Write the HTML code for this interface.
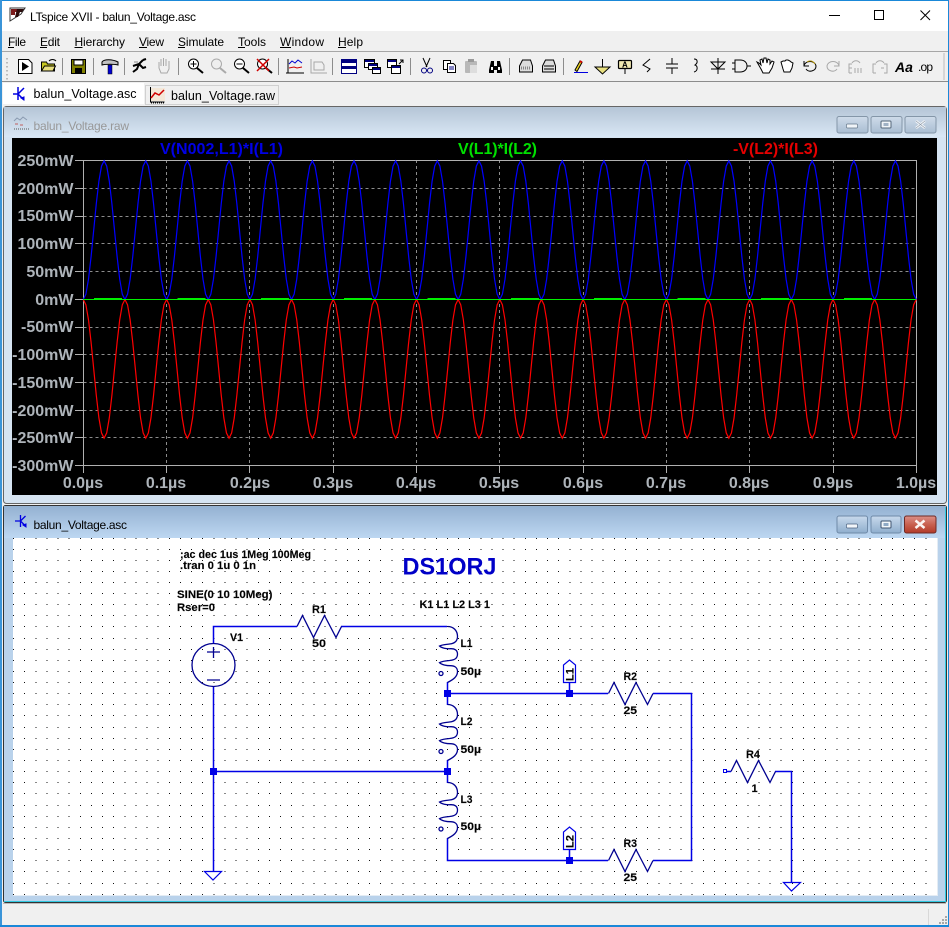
<!DOCTYPE html>
<html><head><meta charset="utf-8"><title>LTspice XVII - balun_Voltage.asc</title>
<style>
html,body{margin:0;padding:0;background:#f0f0f0;width:949px;height:927px;overflow:hidden}
svg{display:block;position:absolute;left:0;top:0}
text{font-family:"Liberation Sans",sans-serif}
.m{font-size:12px;fill:#000}
.ax{font-size:16px;font-weight:bold;fill:#aeb4ba}
.axm{font-size:16px;font-weight:bold;fill:#aeb4ba;text-anchor:middle}
.tr{font-size:16px;font-weight:bold}
.s{font-size:11px;font-weight:bold;fill:#000;stroke:#222;stroke-width:.15}
.sym{fill:none;stroke:#000090;stroke-width:1.3}
.w{fill:#0000e6}
.ic{fill:none;stroke:#000;stroke-width:1}
.g{fill:none;stroke:#a8a8a8;stroke-width:1}
</style></head><body>
<svg width="949" height="927" viewBox="0 0 949 927" xmlns="http://www.w3.org/2000/svg">
<defs>
<linearGradient id="t1" x1="0" y1="0" x2="0" y2="1"><stop offset="0" stop-color="#b5c5d6"/><stop offset="1" stop-color="#d9e7f5"/></linearGradient>
<linearGradient id="t2" x1="0" y1="0" x2="0" y2="1"><stop offset="0" stop-color="#94b1d1"/><stop offset="1" stop-color="#bdd7f1"/></linearGradient>
<linearGradient id="b1" x1="0" y1="0" x2="0" y2="1"><stop offset="0" stop-color="#cfdcea"/><stop offset="1" stop-color="#a9bdd2"/></linearGradient>
<linearGradient id="b2" x1="0" y1="0" x2="0" y2="1"><stop offset="0" stop-color="#c8d9ec"/><stop offset="1" stop-color="#8faecd"/></linearGradient>
<linearGradient id="rd" x1="0" y1="0" x2="0" y2="1"><stop offset="0" stop-color="#dc9088"/><stop offset=".5" stop-color="#c8604f"/><stop offset="1" stop-color="#b23a28"/></linearGradient>
<polyline id="wave" fill="none" points="0,0 2.6,-5.3 5.2,-20.3 7.8,-42.9 10.4,-69.35 13,-95.8 15.6,-118.4 18.2,-133.4 20.8,-138.7 23.4,-133.4 26,-118.4 28.6,-95.8 31.2,-69.35 33.8,-42.9 36.4,-20.3 39,-5.3 41.65,0"/>
<path id="coil" class="sym" d="M0 0C6 0 10 4 10 10C10 15 7 17 2 17.5C-2 18-6 18.3-8 19.500C-6 21.500-1 22.500 3 22.200C7 22 10 23.500 10 27.500C10 32 7 33.500 2 34C-2 34.300-6 35-8 36.200C-6 38.200-1 39.200 3 39.200C7 39.200 10 41 10 45C10 50 6 53 0 56"/>
<path id="res" class="sym" d="M0 0L5.5-11L16.5 11L27.5-11L39 11L44.5 0"/>
<g id="waves">
<use href="#wave" x="83.3"/><use href="#wave" x="124.95"/><use href="#wave" x="166.6"/><use href="#wave" x="208.25"/><use href="#wave" x="249.9"/><use href="#wave" x="291.55"/><use href="#wave" x="333.2"/><use href="#wave" x="374.85"/><use href="#wave" x="416.5"/><use href="#wave" x="458.15"/><use href="#wave" x="499.8"/><use href="#wave" x="541.45"/><use href="#wave" x="583.1"/><use href="#wave" x="624.75"/><use href="#wave" x="666.4"/><use href="#wave" x="708.05"/><use href="#wave" x="749.7"/><use href="#wave" x="791.35"/><use href="#wave" x="833"/><use href="#wave" x="874.65"/>
</g>
</defs>

<!-- outer chrome -->
<rect width="949" height="927" fill="#f0f0f0"/>
<rect width="949" height="31" fill="#fff"/>
<rect x="0" y="51" width="949" height="1" fill="#a6a6a6"/>
<rect x="0" y="81" width="949" height="1" fill="#8c8c8c"/>
<rect x="0" y="0" width="949" height="1" fill="#1a88d8"/>
<rect x="0" y="0" width="2" height="927" fill="#3a94d8"/>
<rect x="948" y="0" width="1" height="927" fill="#1a88d8"/>
<rect x="0" y="925" width="949" height="2" fill="#1a88d8"/>

<!-- app icon + title -->
<path d="M10 8L25 8L21 14L10 21Z" fill="#fff" stroke="#333"/><path d="M11 9h7v3h-3v3h-4z" fill="#7a1a1a"/><path d="M17 9h7l-2 3h-2l-2 5h-3z" fill="#2a0a0a"/>
<text x="30" y="21" class="m" textLength="166" fill="#000">LTspice XVII - balun_Voltage.asc</text>
<rect x="829" y="15" width="11" height="1" fill="#000"/>
<rect x="874.5" y="10.5" width="9" height="9" fill="none" stroke="#000"/>
<path d="M920.5 10.5L930 20M930 10.5L920.5 20" stroke="#000" fill="none"/>

<!-- menu -->
<g class="m">
<text x="8" y="46" class="m" textLength="18">File</text><rect x="8" y="47" width="6" height="1"/>
<text x="40" y="46" class="m" textLength="20">Edit</text><rect x="40" y="47" width="7" height="1"/>
<text x="74.5" y="46" class="m" textLength="50.5">Hierarchy</text><rect x="74.5" y="47" width="8" height="1"/>
<text x="139" y="46" class="m" textLength="25">View</text><rect x="139" y="47" width="8" height="1"/>
<text x="178" y="46" class="m" textLength="46">Simulate</text><rect x="178" y="47" width="7" height="1"/>
<text x="238" y="46" class="m" textLength="28">Tools</text><rect x="238" y="47" width="7" height="1"/>
<text x="280" y="46" class="m" textLength="44">Window</text><rect x="280" y="47" width="11" height="1"/>
<text x="338" y="46" class="m" textLength="25">Help</text><rect x="338" y="47" width="8" height="1"/>
</g>

<!-- toolbar gripper & separators -->
<path d="M7 58v22" stroke="#a8a8a8" stroke-dasharray="1.5 2.5" stroke-width="1.5" fill="none"/>
<path d="M62.5 58v17M93.5 58v17M124.5 58v17M178.5 58v17M278.5 58v17M332.5 58v17M410.5 58v17M509.5 58v17M563.5 58v17" stroke="#8c8c8c" fill="none"/>
<rect x="943.5" y="53" width="1" height="27" fill="#bbb"/>

<!-- toolbar icons -->
<path d="M18.5 59.5h10l3.5 3.5v10.500h-13.500z" fill="#fff" stroke="#000"/><path d="M22 62l7 4.500-7 4.500z" fill="#000"/>
<path d="M41.500 71V62h5l1 2h7v7z" fill="#c8c820" stroke="#000"/><path d="M41.500 71l3-5h11l-2.500 5z" fill="#e8e080" stroke="#000"/><path d="M49 61c2-2 5-2 7 0" class="ic"/>
<rect x="71.500" y="59.500" width="14" height="14" fill="#808000" stroke="#000"/><rect x="74" y="60" width="9" height="5" fill="#fff" stroke="#000"/><rect x="75" y="68" width="7" height="5" fill="#000"/>
<path d="M102 62c2-3 10-3 16 0v3c-4-1-12-1-16 0z" fill="#c0c0c0" stroke="#000"/><rect x="108" y="65" width="4" height="9" fill="#0000d0" stroke="#000" stroke-width=".5"/>
<path d="M133 66l6-2 4-4M139 64l-2 5-4 3M139 64l4 4 3-1M143 60l3-1" stroke="#000" stroke-width="2" fill="none"/><path d="M134 62h4" stroke="#888"/>
<path d="M159 62v6l2 5h6l2-4v-8M161 66v-7M163.500 66v-8M166 66v-7" class="g"/>
<circle cx="193.500" cy="64" r="5" fill="#fff" stroke="#000"/><path d="M197 68l6 5" stroke="#000" stroke-width="2"/><path d="M190.500 64h6M193.500 61v6" stroke="#000"/>
<circle cx="216.500" cy="64" r="5" fill="#eee" stroke="#aaa"/><path d="M220 68l6 5" stroke="#aaa" stroke-width="2"/>
<circle cx="239.500" cy="64" r="5" fill="#fff" stroke="#000"/><path d="M243 68l6 5" stroke="#000" stroke-width="2"/><path d="M236.500 64h6" stroke="#000"/>
<circle cx="262.500" cy="64" r="5" fill="#fff" stroke="#000"/><path d="M266 68l6 5" stroke="#000" stroke-width="2"/><path d="M257 59l12 12M269 59l-12 12" stroke="#d00000" stroke-width="1.500"/>
<path d="M288 59v14h16M286 73h18" stroke="#000" fill="none"/><path d="M289 64l3-3 3 2 3-3 4 3" stroke="#0000d0" fill="none"/><path d="M289 68l5-1 3 1 5-1" stroke="#d00000" fill="none"/>
<path d="M311 59v14h16M314 62h8l2 3v5h-10z" class="g"/>
<rect x="341.500" y="59.500" width="15" height="14" fill="#fff" stroke="#000080" stroke-width="1"/><rect x="342" y="60" width="14" height="3" fill="#000080"/><rect x="342" y="66" width="14" height="3" fill="#000080"/>
<rect x="364.500" y="59.500" width="10" height="8" fill="#fff" stroke="#000"/><rect x="365" y="60" width="9" height="2" fill="#000080"/><rect x="368.500" y="63.500" width="9" height="6" fill="#fff" stroke="#000"/><rect x="369" y="64" width="8" height="2" fill="#000080"/><rect x="372.500" y="67.500" width="8" height="6" fill="#fff" stroke="#000"/><rect x="373" y="68" width="7" height="2" fill="#000080"/>
<rect x="387.500" y="59.500" width="9" height="8" fill="#fff" stroke="#000"/><rect x="388" y="60" width="8" height="2" fill="#000080"/><rect x="391.500" y="65.500" width="9" height="8" fill="#fff" stroke="#000"/><rect x="392" y="66" width="8" height="2" fill="#000080"/><path d="M399 64l4-4M400 60h3v3" class="ic"/>
<path d="M423 58l4 9M430 58l-4 9" class="ic"/><circle cx="424" cy="70.500" r="2.500" fill="none" stroke="#000080"/><circle cx="430" cy="70.500" r="2.500" fill="none" stroke="#000080"/>
<path d="M443.500 60.500h7v9h-7z" fill="#fff" stroke="#000"/><path d="M447.500 63.500h6l2 2v7h-8z" fill="#fff" stroke="#000"/><path d="M449 67h5M449 69h5" stroke="#000080"/>
<rect x="465" y="61" width="12" height="12" rx="1" fill="#b8b8b8"/><rect x="468" y="59" width="6" height="3" fill="#999"/><rect x="470" y="65" width="7" height="8" fill="#ddd"/>
<path d="M489 70l2-9h3v5h3v-5h3l2 9v3h-5v-3h-3v3h-5z" fill="#000"/><rect x="491" y="67" width="2" height="3" fill="#fff"/><rect x="498" y="67" width="2" height="3" fill="#fff"/>
<path d="M519.500 66l3-6h8l2 6v6h-13z" fill="#ddd" stroke="#000"/><path d="M521 68h10" stroke="#888" stroke-width="3" stroke-dasharray="1 1"/>
<path d="M542.500 66l3-6h8l2 6v6h-13z" fill="#ddd" stroke="#000"/><path d="M544 66h10M544 69h10" stroke="#000"/>
<path d="M575 70l5-9 2 1.500-5 9z" fill="#e8d020" stroke="#000"/><path d="M580 61l2 1.500" stroke="#d00000" stroke-width="2"/><rect x="574" y="72" width="14" height="1" fill="#0000e0"/>
<path d="M602.500 59v8M595 67h15l-7.500 7z" fill="#e8e080" stroke="#000"/>
<rect x="618.500" y="60.500" width="13" height="8" rx="1" fill="#f0e8b0" stroke="#000" stroke-width="1.200"/><text x="622" y="67.500" font-size="8" font-weight="bold" font-family="Liberation Mono, monospace" fill="#000">A</text><path d="M625 69v5" class="ic"/>
<path d="M650 59l-7 6 7 4-3 3" class="ic" stroke-width="1.200"/><path d="M672 58v6M666 64h12M666 68h12M672 68v6" class="ic"/>
<path d="M694 59c4 0 4 4 1 6c3 1 3 6-1 7" class="ic" stroke-width="1.200"/>
<path d="M718 58v16M711 62h14l-7 7zM711 69h14" class="ic"/>
<path d="M735 60h5c5 0 7 3 7 6s-2 6-7 6h-5zM732 63h3M732 69h3M747 66h4" class="ic" stroke-width="1.200"/>
<path d="M757 62l4 7 2 4h6l3-5 2-6-2-1-2 3v-4l-2-1-1 4-1-5h-2l-1 5-1-4-2 1 1 5-2-2z" fill="#fff" stroke="#000"/>
<path d="M781 62l2 7 1 3h6l2-4 1-5-2-1-1-1-2-1h-2l-1 1h-2z" fill="#fff" stroke="#000"/>
<path d="M804 66c1-6 11-6 12 0c0 5-7 7-10 3" class="ic"/><path d="M804 61v5h5" fill="none" stroke="#000"/><path d="M807 62c3-2 6-1 8 2" fill="none" stroke="#b09000"/>
<path d="M839 66c-1-6-11-6-12 0c0 5 7 7 10 3M839 61v5h-5" class="g"/>
<path d="M849 73v-9h3M849 68h3M849 73h3M855 73v-5M858 73v-5M861 73v-5M852 63c2-3 6-3 8 0" class="g"/>
<path d="M873 73v-9h3M873 73h3M884 64h3v9h-3M881 68h3M876 63c2-3 6-3 8 0" class="g"/>
<text x="895" y="72" font-size="14" font-weight="bold" font-style="italic" font-family="Liberation Serif, serif" fill="#000">Aa</text>
<text x="918" y="71" font-size="12" font-family="Liberation Mono, monospace" fill="#000" textLength="15">.op</text>

<!-- tabs -->
<rect x="3" y="83" width="141" height="21" fill="#fff"/>
<rect x="145.500" y="85.500" width="133" height="19" fill="#f0f0f0" stroke="#d0d0d0"/>
<path d="M18 87v13M18 94l6-6M18 94l6 6" stroke="#0000e0" stroke-width="1.500" fill="none"/><path d="M13 94h5" stroke="#0000e0" stroke-width="1.500"/><path d="M21 98l3 2 0-3z" fill="#0000e0" stroke="#0000e0"/>
<path d="M150.500 87v15h14" stroke="#000" fill="none"/><rect x="151" y="88" width="14" height="13" fill="#f4e8d8"/><path d="M151 98l4-5 4 2 5-5" stroke="#d00000" stroke-width="1.500" fill="none"/><path d="M151 103h14" stroke="#000" stroke-dasharray="1 1"/>
<text x="33.500" y="98" font-size="12.500" fill="#000" textLength="103">balun_Voltage.asc</text>
<text x="171" y="100" font-size="12.500" fill="#000" textLength="104">balun_Voltage.raw</text>

<!-- plot window -->
<rect x="3.500" y="106.500" width="943" height="397" rx="3" fill="#d6e4f2" stroke="#666"/>
<rect x="4" y="107" width="942" height="30" fill="url(#t1)"/>
<path d="M14 121l3-3 3 2 3-3 4 3" stroke="#8a9ab0" fill="none"/><path d="M15 124h3M20 125h3" stroke="#c06060"/><path d="M14 129h15" stroke="#555" stroke-dasharray="1 1"/>
<text x="33.500" y="130" font-size="12" fill="#989898" textLength="95.500">balun_Voltage.raw</text>
<g>
<rect x="837" y="116.500" width="31" height="16.500" rx="2" fill="url(#b1)" stroke="#8496a8"/><rect x="846.500" y="124" width="11" height="4" rx="1" fill="#f0f4f8" stroke="#66788a" stroke-width=".7"/>
<rect x="871" y="116.500" width="31" height="16.500" rx="2" fill="url(#b1)" stroke="#8496a8"/><rect x="881" y="121" width="10" height="7" rx="1" fill="#f0f4f8" stroke="#55677a"/><rect x="883.500" y="123" width="5" height="3" fill="#9fb1c4"/>
<rect x="905" y="116.500" width="31" height="16.500" rx="2" fill="url(#b1)" stroke="#8496a8"/><path d="M916 121l9 7M925 121l-9 7" stroke="#f4f6f8" stroke-width="2.500"/><path d="M916 121l9 7M925 121l-9 7" stroke="#8a98a8" stroke-width=".6"/>
</g>

<!-- plot -->
<rect x="12" y="138" width="925" height="357" fill="#000"/>
<path d="M83.500 188.500H916M83.500 216.500H916M83.500 243.500H916M83.500 271.500H916M83.500 327.500H916M83.500 354.500H916M83.500 382.500H916M83.500 410.500H916M83.500 437.500H916M83.500 299.500H916" stroke="#8c8c8c" stroke-dasharray="3 3" fill="none"/>
<path d="M166.500 160V465M249.500 160V465M333.500 160V465M416.500 160V465M499.500 160V465M583.500 160V465M666.500 160V465M749.500 160V465M833.500 160V465" stroke="#8c8c8c" stroke-dasharray="3 3" fill="none"/>
<path d="M83.500 160.500H916.500V465.500H83.500Z" stroke="#b0b0b0" fill="none"/>
<path d="M75 160.500h8M75 188.500h8M75 216.500h8M75 243.500h8M75 271.500h8M75 299.500h8M75 327.500h8M75 354.500h8M75 382.500h8M75 410.500h8M75 437.500h8M75 465.500h8M83.500 465v8M166.500 465v8M249.500 465v8M333.500 465v8M416.500 465v8M499.500 465v8M583.500 465v8M666.500 465v8M749.500 465v8M833.500 465v8M916.500 465v8" stroke="#b0b0b0" fill="none"/>
<g transform="translate(0,299.500)" stroke="#0000ff" stroke-width="1.200"><use href="#waves"/></g>
<g transform="translate(0,299.500) scale(1,-1)" stroke="#ff0000" stroke-width="1.200"><use href="#waves"/></g>
<path d="M83 299.500H916" stroke="#00f000" fill="none"/>
<path d="M94 298.500h28M177.500 298.500h28M261 298.500h28M344 298.500h28M427.500 298.500h28M511 298.500h28M594 298.500h28M677.500 298.500h28M761 298.500h28M844 298.500h28" stroke="#00f000" fill="none"/>

<text x="160" y="154" class="tr" fill="#0000e6" textLength="123">V(N002,L1)*I(L1)</text>
<text x="458" y="154" class="tr" fill="#00e000" textLength="79">V(L1)*I(L2)</text>
<text x="733" y="154" class="tr" fill="#e60000" textLength="85">-V(L2)*I(L3)</text>

<g text-anchor="end">
<text x="73.500" y="166" class="ax">250mW</text>
<text x="73.500" y="194" class="ax">200mW</text>
<text x="73.500" y="221" class="ax">150mW</text>
<text x="73.500" y="249" class="ax">100mW</text>
<text x="73.500" y="277" class="ax">50mW</text>
<text x="73.500" y="305" class="ax">0mW</text>
<text x="73.500" y="332" class="ax">-50mW</text>
<text x="73.500" y="360" class="ax">-100mW</text>
<text x="73.500" y="388" class="ax">-150mW</text>
<text x="73.500" y="416" class="ax">-200mW</text>
<text x="73.500" y="443" class="ax">-250mW</text>
<text x="73.500" y="471" class="ax">-300mW</text>
</g>
<text x="83" y="488" class="axm">0.0µs</text>
<text x="166" y="488" class="axm">0.1µs</text>
<text x="250" y="488" class="axm">0.2µs</text>
<text x="333" y="488" class="axm">0.3µs</text>
<text x="416" y="488" class="axm">0.4µs</text>
<text x="499" y="488" class="axm">0.5µs</text>
<text x="583" y="488" class="axm">0.6µs</text>
<text x="666" y="488" class="axm">0.7µs</text>
<text x="749" y="488" class="axm">0.8µs</text>
<text x="833" y="488" class="axm">0.9µs</text>
<text x="916" y="488" class="axm">1.0µs</text>

<!-- schematic window -->
<rect x="3.500" y="505.500" width="943" height="397" rx="2" fill="#b9d2eb" stroke="#333"/>
<rect x="4" y="506" width="942" height="32" fill="url(#t2)"/>
<rect x="4.500" y="896" width="941" height="6" fill="#b9d2eb"/>
<rect x="4" y="901" width="941" height="1" fill="#30c8e0"/>
<rect x="945" y="507" width="1" height="395" fill="#30c8e0"/>
<rect x="3" y="903" width="943" height="1" fill="#bbb"/>
<path d="M20.500 515v12M20.500 521l5-5M20.500 521l5 5M15 521h5.500" stroke="#0000e0" stroke-width="1.300" fill="none"/><path d="M23 525l3 2v-3z" fill="#0000e0" stroke="#0000e0"/>
<text x="33.500" y="529" font-size="12" fill="#000" textLength="93.500">balun_Voltage.asc</text>
<g>
<rect x="837" y="516" width="30.500" height="17" rx="2" fill="url(#b2)" stroke="#6f8aa8"/><rect x="846.500" y="524" width="11" height="4" rx="1" fill="#f2f6fa" stroke="#4d6380" stroke-width=".7"/>
<rect x="871" y="516" width="30" height="17" rx="2" fill="url(#b2)" stroke="#6f8aa8"/><rect x="881" y="521" width="10" height="7" rx="1" fill="#f2f6fa" stroke="#3f5470"/><rect x="883.500" y="523" width="5" height="3" fill="#8fa9c5"/>
<rect x="904.500" y="516" width="31.500" height="17" rx="2" fill="url(#rd)" stroke="#6e2a26"/><path d="M915.500 520.500l9 7.500M924.500 520.500l-9 7.500" stroke="#fbf4f2" stroke-width="2.500"/>
</g>

<!-- schematic canvas -->
<rect x="13" y="538" width="924" height="357" fill="#fff"/>
<rect x="937" y="538" width="1" height="358" fill="#e4ecf4"/>
<rect x="13" y="895" width="925" height="1" fill="#e4ecf4"/>
<path shape-rendering="crispEdges" stroke="#111" stroke-width="1" stroke-dasharray="1 10.125" fill="none" d="M13 538.500H936M13 549.500H936M13 560.500H936M13 571.500H936M13 582.500H936M13 593.500H936M13 604.500H936M13 615.500H936M13 626.500H936M13 638.500H936M13 649.500H936M13 660.500H936M13 671.500H936M13 682.500H936M13 693.500H936M13 704.500H936M13 715.500H936M13 727.500H936M13 738.500H936M13 749.500H936M13 760.500H936M13 771.500H936M13 782.500H936M13 793.500H936M13 805.500H936M13 816.500H936M13 827.500H936M13 838.500H936M13 849.500H936M13 860.500H936M13 871.500H936M13 883.500H936M13 894.500H936"/>

<!-- wires -->
<g fill="none" stroke="#0000e6" stroke-width="1.500">
<path d="M213.500 643V626.500H297M341 626.500H447"/>
<path d="M213.500 687V871"/>
<path d="M213 771.500H447"/>
<path d="M447.500 682V705M447.500 760V783M447.500 838V860.500H608M653 860.500H691.500V693.500H653M608 693.500H447"/>
<path d="M569.500 693V682M569.500 860V849"/>
<path d="M727 771.500H731M775 771.500H791.500V882"/>
</g>
<!-- junctions -->
<rect x="210" y="768" width="7" height="7" fill="#0000e6"/>
<rect x="444" y="690" width="7" height="7" fill="#0000e6"/>
<rect x="444" y="768" width="7" height="7" fill="#0000e6"/>
<rect x="566" y="690" width="7" height="7" fill="#0000e6"/>
<rect x="566" y="857" width="7" height="7" fill="#0000e6"/>
<rect x="723.500" y="769.500" width="3" height="3" fill="#fff" stroke="#0000e6"/>

<!-- source -->
<circle cx="213.500" cy="665" r="21.500" class="sym"/>
<path d="M207 652H220M213.500 647V658M207 680H220" class="sym"/>
<!-- grounds -->
<path d="M204.500 871.500H221.500L213 880Z" fill="none" stroke="#0000e6" stroke-width="1.200"/>
<path d="M783.500 882.500H800.500L791.500 891Z" fill="none" stroke="#0000e6" stroke-width="1.200"/>

<!-- resistors -->
<use href="#res" x="297" y="626.500"/>
<use href="#res" x="608.500" y="693.500"/>
<use href="#res" x="608.500" y="860.500"/>
<use href="#res" x="731" y="771.500"/>

<!-- inductors -->
<use href="#coil" x="447.500" y="626.500"/>
<use href="#coil" x="447.500" y="704.500"/>
<use href="#coil" x="447.500" y="782.500"/>
<circle cx="441" cy="673.500" r="2" class="sym"/>
<circle cx="441" cy="751.500" r="2" class="sym"/>
<circle cx="441" cy="829" r="2" class="sym"/>

<!-- net flags -->
<path d="M563.500 682.500V665L569.500 660L575.500 665V682.500Z" fill="#fff" stroke="#0000e6" stroke-width="1.200"/>
<path d="M563.500 849.500V832L569.500 827L575.500 832V849.500Z" fill="#fff" stroke="#0000e6" stroke-width="1.200"/>
<text transform="translate(573.500,681) rotate(-90)" class="s" textLength="13" lengthAdjust="spacingAndGlyphs">L1</text>
<text transform="translate(573.500,848) rotate(-90)" class="s" textLength="13" lengthAdjust="spacingAndGlyphs">L2</text>

<!-- schematic labels -->
<text x="180" y="558" class="s" textLength="131" lengthAdjust="spacingAndGlyphs">;ac dec 1us 1Meg 100Meg</text>
<text x="180" y="569" class="s" textLength="76" lengthAdjust="spacingAndGlyphs">.tran 0 1u 0 1n</text>
<text x="177" y="598" class="s" textLength="95.500" lengthAdjust="spacingAndGlyphs">SINE(0 10 10Meg)</text>
<text x="177" y="611" class="s" textLength="38" lengthAdjust="spacingAndGlyphs">Rser=0</text>
<text x="230" y="641" class="s" textLength="13" lengthAdjust="spacingAndGlyphs">V1</text>
<text x="312" y="613" class="s" textLength="14" lengthAdjust="spacingAndGlyphs">R1</text>
<text x="312" y="647" class="s" textLength="14" lengthAdjust="spacingAndGlyphs">50</text>
<text x="419.500" y="608" class="s" textLength="70.500" lengthAdjust="spacingAndGlyphs">K1 L1 L2 L3 1</text>
<text x="460.500" y="647" class="s" textLength="12" lengthAdjust="spacingAndGlyphs">L1</text>
<text x="460.500" y="675" class="s" textLength="20.500" lengthAdjust="spacingAndGlyphs">50µ</text>
<text x="460.500" y="725" class="s" textLength="12" lengthAdjust="spacingAndGlyphs">L2</text>
<text x="460.500" y="753" class="s" textLength="20.500" lengthAdjust="spacingAndGlyphs">50µ</text>
<text x="460.500" y="803" class="s" textLength="12" lengthAdjust="spacingAndGlyphs">L3</text>
<text x="460.500" y="830" class="s" textLength="20.500" lengthAdjust="spacingAndGlyphs">50µ</text>
<text x="623.500" y="680" class="s" textLength="13.500" lengthAdjust="spacingAndGlyphs">R2</text>
<text x="623.500" y="714" class="s" textLength="13.500" lengthAdjust="spacingAndGlyphs">25</text>
<text x="623.500" y="847" class="s" textLength="13.500" lengthAdjust="spacingAndGlyphs">R3</text>
<text x="623.500" y="881" class="s" textLength="13.500" lengthAdjust="spacingAndGlyphs">25</text>
<text x="746" y="758" class="s" textLength="14" lengthAdjust="spacingAndGlyphs">R4</text>
<text x="751.500" y="792" class="s">1</text>
<text x="402.500" y="574.500" font-size="24" font-weight="bold" fill="#0000c8" textLength="94" lengthAdjust="spacingAndGlyphs">DS1ORJ</text>

<!-- status bar -->
<rect x="928" y="909" width="1" height="16" fill="#d8d8d8"/>
<path d="M945 916h2v2h-2zM942 919h2v2h-2zM945 919h2v2h-2zM939 922h2v2h-2zM942 922h2v2h-2zM945 922h2v2h-2z" fill="#a8a8a8"/>
</svg>
</body></html>
